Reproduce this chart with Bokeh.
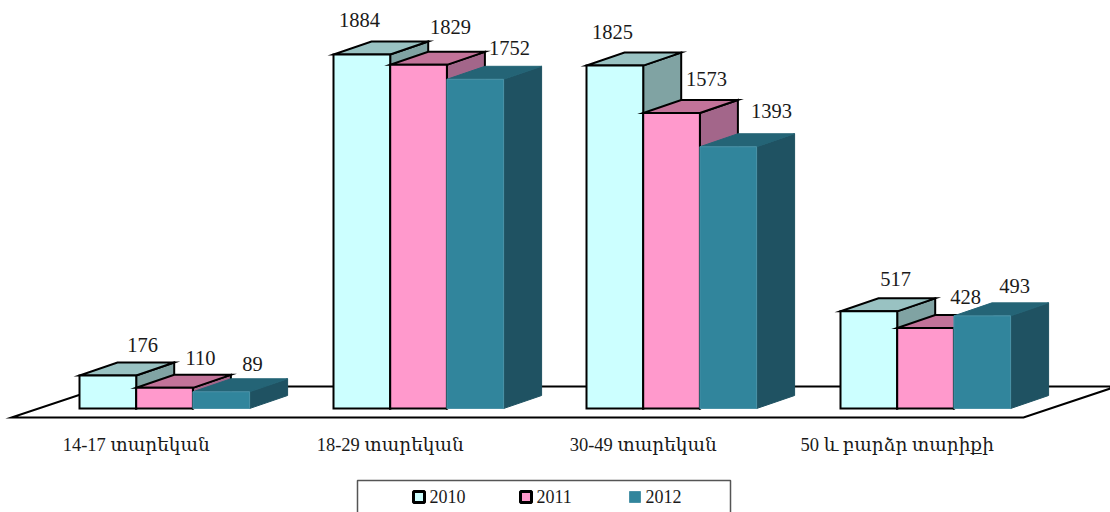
from bokeh.plotting import figure
from bokeh.models import Range1d
from bokeh.core.properties import value
from bokeh.embed import file_html
from bokeh.resources import INLINE

categories = ["14-17 տարեկան", "18-29 տարեկան", "30-49 տարեկան", "50 և բարձր տարիքի"]
years = ["2010", "2011", "2012"]
v2010 = [176, 1884, 1825, 517]
v2011 = [110, 1829, 1573, 428]
v2012 = [89, 1752, 1393, 493]

front = ["#CCFFFF", "#FF99CC", "#31859C"]
top_c = ["#99C2C2", "#C27399", "#246476"]
side_c = ["#80A3A3", "#A3668A", "#1F5262"]
edge = ["#000000", "#000000", "#4B93A8"]
edge_w = [2, 2, 1]

PX = 0.1879            # px per value unit
BASE = 408             # screen row of value 0
W, H = 1110, 512
group_x = [79, 333, 586, 840]
BAR = 56.7
DX, DY = 38, 13 / PX
FLOOR_FRONT, FLOOR_BACK = -9 / PX, 22 / PX
FLOOR_L, FLOOR_R, FLOOR_SKEW = 11, 1023, 93

def vy(row):
    return (BASE - row) / PX

FONT = "Liberation Serif, DejaVu Serif"

p = figure(width=W, height=H, output_backend="svg", toolbar_location=None,
           x_range=Range1d(0, 1110), y_range=Range1d(vy(512), vy(0)),
           min_border=0, outline_line_color=None, background_fill_color="white")
p.axis.visible = False
p.grid.visible = False

# floor
p.patch([FLOOR_L, FLOOR_R, FLOOR_R + FLOOR_SKEW, FLOOR_L + FLOOR_SKEW],
        [FLOOR_FRONT, FLOOR_FRONT, FLOOR_BACK, FLOOR_BACK],
        fill_color="white", line_color="#000000", line_width=2, line_join="miter")

# bars, left to right within a group
series = [v2010, v2011, v2012]
for s, vals in enumerate(series):
    lefts = [g + s * BAR for g in group_x]
    for left, v in zip(lefts, vals):
        r = left + BAR
        p.patch([r, r + DX, r + DX, r], [0, DY, v + DY, v],
                fill_color=side_c[s], line_color=side_c[s] if s == 2 else "#000000",
                line_width=edge_w[s], line_join="miter")
        p.patch([left, r, r + DX, left + DX], [v, v, v + DY, v + DY],
                fill_color=top_c[s], line_color=top_c[s] if s == 2 else "#000000",
                line_width=edge_w[s], line_join="miter")
        p.quad(left=[left], right=[r], bottom=[0], top=[v],
               fill_color=front[s], line_color=edge[s], line_width=edge_w[s], line_join="miter")

# value labels
label_x = [142, 359, 612, 895, 200, 450, 706, 965, 252, 509, 771, 1014]
label_row = [344, 19, 31, 278, 357, 26, 78, 296, 363, 47, 110, 285]
label_vals = v2010 + v2011 + v2012
p.text(label_x, [vy(r) for r in label_row], text=[str(v) for v in label_vals],
       text_font=value(FONT), text_font_size="20.5px", text_color="#1a1a1a",
       text_align="center", text_baseline="middle")

# category labels
p.text([g + BAR for g in group_x], [vy(444)] * 4, text=categories,
       text_font=value(FONT), text_font_size="18.5px", text_color="#1a1a1a",
       text_align="center", text_baseline="middle")

# legend
p.quad(left=[357], right=[730], top=[vy(480)], bottom=[vy(530)],
       fill_color="white", line_color="#555555", line_width=1.5)
sq_x = [413, 520, 629]
txt_x = [429, 536, 645]
for i, y in enumerate(years):
    p.quad(left=[sq_x[i]], right=[sq_x[i] + 11], top=[vy(491)], bottom=[vy(502)],
           fill_color=front[i], line_color=edge[i], line_width=edge_w[i] + (1 if i < 2 else 0))
p.text(txt_x, [vy(495.5)] * 3, text=years,
       text_font=value(FONT), text_font_size="18px", text_color="#1a1a1a",
       text_align="left", text_baseline="middle")

open("out.html", "w").write(file_html(p, INLINE))
